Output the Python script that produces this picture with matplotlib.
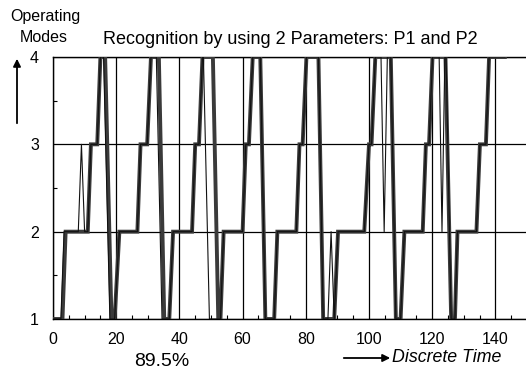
import numpy as np
import matplotlib.pyplot as plt
from matplotlib.ticker import MultipleLocator

plt.rcParams['font.family'] = ['Liberation Sans', 'DejaVu Sans']

# recognized operating mode (thick trace), vertices (time, mode)
rec_t = [0, 3, 4, 11, 12, 14, 15, 16.5, 18.5, 19.5, 21,
         26.7, 27.7, 29.8, 31, 33.5, 35.2, 36.8, 38, 44, 45, 46.2, 47.3, 50.6, 52.3, 53, 54,
         60, 61, 62, 63.2, 65.6, 67.2, 70, 71,
         77, 78, 79, 80.2, 84, 85.5, 89, 90.2,
         98.5, 100, 100.8, 102, 106.9, 108.5, 110, 111.2,
         117, 118, 119, 120.1, 124.2, 126, 127.2, 128,
         134, 135.1, 137, 138, 143]
rec_m = [1, 1, 2, 2, 3, 3, 4, 4, 1, 1, 2,
         2, 3, 3, 4, 4, 1, 1, 2, 2, 3, 3, 4, 4, 1, 1, 2,
         2, 3, 3, 4, 4, 1, 1, 2,
         2, 3, 3, 4, 4, 1, 1, 2,
         2, 3, 3, 4, 4, 1, 1, 2,
         2, 3, 3, 4, 4, 1, 1, 2,
         2, 3, 3, 4, 4]

# true operating mode (thin trace)
true_t = [0, 2.5, 3.5, 8, 9, 10, 11, 12, 14, 15, 16, 18, 19.5, 21,
          26.7, 27.7, 29.8, 31, 32.7, 34.5, 36.8, 38, 44, 45, 46.2, 47.3, 47.6, 49.5, 53, 54,
          60, 61, 62, 63.2, 65.6, 67.2, 70, 71,
          77, 78, 79, 80.2, 84, 85.5, 87, 88, 89, 90.2,
          98.5, 100, 100.8, 102, 103.8, 104.8, 105.8, 106.9, 108.5, 110, 111.2,
          117, 118, 119, 120.1, 122.2, 123.1, 124, 124.4, 126, 127.2, 128,
          134, 135.1, 137, 138, 143]
true_m = [1, 1, 2, 2, 3, 2, 2, 3, 3, 4, 4, 1, 1, 2,
          2, 3, 3, 4, 4, 1, 1, 2, 2, 3, 3, 4, 4, 1, 1, 2,
          2, 3, 3, 4, 4, 1, 1, 2,
          2, 3, 3, 4, 4, 1, 1, 2, 1, 2,
          2, 3, 3, 4, 4, 2, 4, 4, 1, 1, 2,
          2, 3, 3, 4, 4, 2, 4, 4, 1, 1, 2,
          2, 3, 3, 4, 4]

accuracy = '89.5%'

fig = plt.figure(figsize=(5.26, 3.69), dpi=100)
ax = fig.add_axes([53 / 526, 50 / 369, 474 / 526, 262 / 369])

ax.plot(rec_t, rec_m, color='#3a3a3a', lw=2.8, solid_joinstyle='miter', zorder=3)
ax.plot(true_t, true_m, color='#111111', lw=0.8, zorder=4)

ax.set_xlim(0, 150)
ax.set_ylim(1, 4)
ax.xaxis.set_major_locator(MultipleLocator(20))
ax.xaxis.set_minor_locator(MultipleLocator(5))
ax.yaxis.set_major_locator(MultipleLocator(1))
ax.yaxis.set_minor_locator(MultipleLocator(0.5))
ax.tick_params(which='both', direction='in', labelsize=11.5, width=0.8)
ax.tick_params(which='major', length=0)
ax.tick_params(which='minor', length=3)
ax.tick_params(axis='x', pad=9)
ax.tick_params(axis='y', pad=10)
ax.grid(True, which='major', color='black', lw=0.9)
for s in ax.spines.values():
    s.set_linewidth(1.0)
ax.spines['right'].set_visible(False)

ax.set_title('Recognition by using 2 Parameters: P1 and P2', fontsize=13, pad=9)

fig.text(45 / 526, 1 - 17 / 369, 'Operating', ha='center', va='center', fontsize=11.5)
fig.text(44 / 526, 1 - 37 / 369, 'Modes', ha='center', va='center', fontsize=11.5)
ax.annotate('', xy=(17, 369 - 56), xytext=(17, 369 - 126), xycoords='figure pixels',
            arrowprops=dict(arrowstyle='-|>', color='black', lw=1.3, mutation_scale=11))

fig.text(162 / 526, 1 - 361 / 369, accuracy, ha='center', va='center', fontsize=14)
ax.annotate('', xy=(393, 369 - 358), xytext=(341, 369 - 358), xycoords='figure pixels',
            arrowprops=dict(arrowstyle='-|>', color='black', lw=1.3, mutation_scale=11))
fig.text(392 / 526, 1 - 358 / 369, 'Discrete Time', ha='left', va='center',
         fontsize=12.8, style='italic')

fig.savefig('out.png', dpi=100)
